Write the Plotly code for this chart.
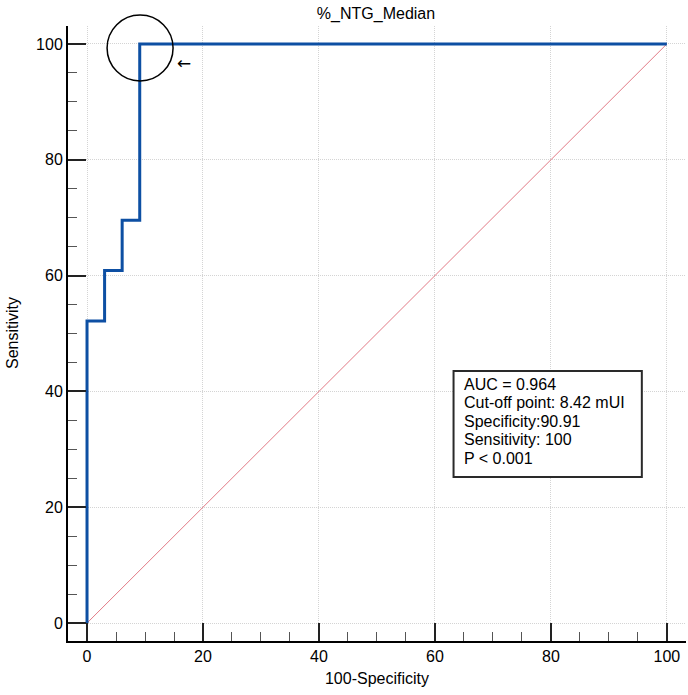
import plotly.graph_objects as go

# ROC step curve (100-Specificity, Sensitivity)
fpr = [0, 0, 3.03, 3.03, 6.06, 6.06, 9.09, 9.09, 100]
tpr = [0, 52.17, 52.17, 60.87, 60.87, 69.57, 69.57, 100, 100]
diag_x = [0, 100]
diag_y = [0, 100]
tick_vals = [0, 20, 40, 60, 80, 100]
stats_lines = ["AUC = 0.964", "Cut-off point: 8.42 mUI", "Specificity:90.91",
               "Sensitivity: 100", "P < 0.001"]
cut_x, cut_y = 9.15, 99.3

FONT = "Liberation Sans, Arial, sans-serif"
FS = 16

W, H = 688, 695
ML, MR, MT, MB = 68, 2, 26, 54
XR = [-3.28, 103.3]
YR = [-3.1, 103.1]
PW, PH = W - ML - MR, H - MT - MB

fig = go.Figure()
fig.add_trace(go.Scatter(x=diag_x, y=diag_y, mode="lines",
                         line=dict(color="#e27a86", width=1), hoverinfo="skip"))
fig.add_trace(go.Scatter(x=fpr, y=tpr, mode="lines",
                         line=dict(color="#0d4fa3", width=3), hoverinfo="skip"))

axis_common = dict(
    showline=True, linecolor="black", linewidth=2,
    ticks="inside", ticklen=18, tickwidth=2, tickcolor="#222",
    tickvals=tick_vals,
    showgrid=True, gridcolor="#d4d4d4", griddash="1px,1px", gridwidth=1,
    zeroline=False,
    minor=dict(dtick=5, tick0=0, ticks="inside", ticklen=9, tickwidth=1,
               tickcolor="#555", showgrid=False),
    tickfont=dict(family=FONT, size=FS, color="black"),
    title_font=dict(family=FONT, size=FS, color="black"),
)

fig.update_xaxes(range=XR, title_text="100-Specificity",
                 title_standoff=9, **axis_common)
fig.update_yaxes(range=YR, **axis_common)

# pixel -> data / paper helpers for annotation placement
PX = 5.79
def dx(px):
    return (px - 87) / PX
def dy(py):
    return (623 - py) / PX
def data_to_paper_x(v):
    return (v - XR[0]) / (XR[1] - XR[0])
def data_to_paper_y(v):
    return (v - YR[0]) / (YR[1] - YR[0])

# circle around the cut-off point (paper refs so it is not clipped at the top)
cxp, cyp = data_to_paper_x(cut_x), data_to_paper_y(cut_y)
rx, ry = 33 / PW, 33 / PH
fig.add_shape(type="circle", xref="paper", yref="paper",
              x0=cxp - rx, x1=cxp + rx, y0=cyp - ry, y1=cyp + ry,
              line=dict(color="black", width=1.5))
fig.add_annotation(x=dx(184), y=dy(63), xref="x", yref="y", text="←", showarrow=False,
                   font=dict(family="DejaVu Sans", size=17, color="black"))

fig.add_shape(type="rect", xref="x", yref="y", x0=dx(453), x1=dx(641),
              y0=dy(477), y1=dy(371), line=dict(color="#2a2a2a", width=2),
              fillcolor="white", layer="above")
for i, line in enumerate(stats_lines):
    fig.add_annotation(x=dx(461), y=dy(384 + 18.5 * i), xref="x", yref="y",
                       xanchor="left", yanchor="middle", text=line, showarrow=False,
                       font=dict(family=FONT, size=FS, color="black"))

# y-axis title
fig.add_annotation(x=(12 - ML) / PW, y=(H - MB - 333) / PH, xref="paper", yref="paper",
                   text="Sensitivity", textangle=-90, showarrow=False,
                   xanchor="center", yanchor="middle",
                   font=dict(family=FONT, size=FS, color="black"))

fig.update_layout(
    width=W, height=H,
    margin=dict(l=ML, r=MR, t=MT, b=MB),
    paper_bgcolor="white", plot_bgcolor="white",
    showlegend=False,
    title=dict(text="%_NTG_Median", x=376 / W, xanchor="center", y=1 - 13 / H,
               yanchor="middle", font=dict(family=FONT, size=FS, color="black")),
)

fig.write_html("out.html")
